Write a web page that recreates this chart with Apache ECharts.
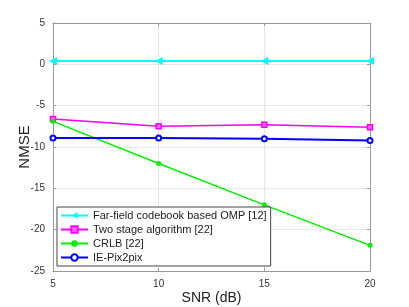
<!DOCTYPE html>
<html><head><meta charset="utf-8">
<script src="https://cdn.jsdelivr.net/npm/echarts@6/dist/echarts.min.js"></script>
<style>html,body{margin:0;padding:0;background:#fff;}#c{width:409px;height:307px;}</style>
</head><body><div id="c"></div>
<script>
var snr = [5, 10, 15, 20];
var farField = [0.4, 0.4, 0.4, 0.4];
var twoStage = [-6.6, -7.5, -7.3, -7.6];
var crlb = [-6.9, -12.0, -17.0, -21.9];
var iePix = [-8.9, -8.9, -9.0, -9.2];
var names = ['Far-field codebook based OMP [12]', 'Two stage algorithm [22]', 'CRLB [22]', 'IE-Pix2pix'];

function pairs(v){ return snr.map(function(x,i){ return [x, v[i]]; }); }
var chart = echarts.init(document.getElementById('c'));
var axisCommon = {
  axisLine:{show:true, onZero:false, lineStyle:{color:'#999', width:1}},
  axisTick:{show:true, inside:true, length:3, lineStyle:{color:'#999'}},
  axisLabel:{color:'#333', fontSize:10, fontFamily:'Liberation Sans'},
  splitLine:{show:true, lineStyle:{color:'#e6e6e6', width:1}}
};
chart.setOption({
  animation:false,
  grid:{left:53, right:39, top:23, bottom:36, show:false, containLabel:false, outerBoundsMode:'none'},
  legend:{
    orient:'vertical', left:57, top:207,
    data:names,
    borderColor:'#444', borderWidth:1, backgroundColor:'#fff',
    padding:[3,4,3,3], itemGap:3, itemWidth:27, itemHeight:8,
    textStyle:{fontSize:11, color:'#222', fontFamily:'Liberation Sans'}
  },
  xAxis:[Object.assign({type:'value', min:5, max:20, interval:5, position:'bottom',
      name:'SNR (dB)', nameLocation:'middle', nameGap:20, nameMoveOverlap:false,
      nameTextStyle:{fontSize:14, color:'#222', fontFamily:'Liberation Sans'}}, axisCommon),
    {type:'value', min:5, max:20, interval:5, position:'top',
      axisLine:{show:true, onZero:false, lineStyle:{color:'#999'}},
      axisTick:{show:true, inside:true, length:3, lineStyle:{color:'#999'}},
      axisLabel:{show:false}, splitLine:{show:false}}],
  yAxis:[Object.assign({type:'value', min:-25, max:5, interval:5, position:'left',
      name:'NMSE', nameLocation:'middle', nameGap:21, nameMoveOverlap:false,
      nameTextStyle:{fontSize:15, color:'#222', fontFamily:'Liberation Sans'}}, axisCommon),
    {type:'value', min:-25, max:5, interval:5, position:'right',
      axisLine:{show:true, onZero:false, lineStyle:{color:'#999'}},
      axisTick:{show:true, inside:true, length:3, lineStyle:{color:'#999'}},
      axisLabel:{show:false}, splitLine:{show:false}}],
  series:[
    {name:names[0], type:'line', data:pairs(farField), color:'#00ffff',
      lineStyle:{width:2, color:'#00ffff'}, symbol:'triangle', symbolRotate:90, symbolSize:8,
      itemStyle:{color:'#00ffff'}},
    {name:names[1], type:'line', data:pairs(twoStage), color:'#ff00ff',
      lineStyle:{width:1.5, color:'#ff00ff'}, symbol:'rect', symbolSize:5,
      itemStyle:{color:'#ff66ff', borderColor:'#ff00ff', borderWidth:1.5}},
    {name:names[2], type:'line', data:pairs(crlb), color:'#00ee00',
      lineStyle:{width:1.5, color:'#00ee00'}, symbol:'circle', symbolSize:5,
      itemStyle:{color:'#00ee00'}},
    {name:names[3], type:'line', data:pairs(iePix), color:'#0000ff',
      lineStyle:{width:2, color:'#0000ff'}, symbol:'emptyCircle', symbolSize:5,
      itemStyle:{color:'#0000ff', borderWidth:1.5}}
  ]
});
</script></body></html>
